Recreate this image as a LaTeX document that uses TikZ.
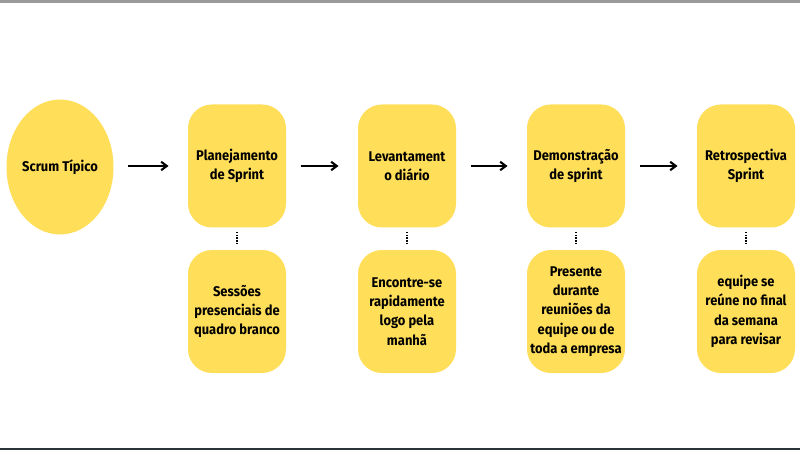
\documentclass[tikz,border=0pt]{standalone}
\usepackage{fontspec}
\setmainfont{Fira Sans}[FakeStretch=0.92]
\usepackage{xcolor}
\usepackage{tikz}
\usetikzlibrary{arrows.meta,positioning,shapes.geometric,calc}
\definecolor{scrumyellow}{HTML}{FFDE59}
\definecolor{edgegray}{HTML}{9A9A9A}
\definecolor{edgedark}{HTML}{2B3436}

\begin{document}
\begin{tikzpicture}[
  phase/.style={rectangle, fill=scrumyellow, rounded corners=17pt, minimum width=2.45cm, minimum height=3.075cm, align=center, font=\bfseries\fontsize{10}{13.8}\selectfont, inner sep=2pt},
  start/.style={ellipse, fill=scrumyellow, minimum width=2.625cm, minimum height=3.375cm, inner sep=0pt, align=center, font=\bfseries\fontsize{10}{13.8}\selectfont},
  arr/.style={-{Straight Barb[length=4pt,width=6pt]}, line width=1.5pt, shorten <=0.36cm, shorten >=0.48cm},
  dots/.style={densely dotted, line width=1pt, shorten <=0.1cm, shorten >=0.1cm}
]
\useasboundingbox (0,0) rectangle (20,11.25);

% screen edges
\fill[edgegray] (0,11.17) rectangle (20,11.25);
\fill[edgedark] (0,0) rectangle (20,0.06);

% Top row
\node[start] (scrum) at (1.5,7.075) {Scrum Típico};
\node[phase] (plan) at (5.925,7.1) {Planejamento\\de Sprint};
\node[phase] (daily) at (10.175,7.1) {Levantament\\o diário};
\node[phase] (demo) at (14.4,7.1) {Demonstração\\de sprint};
\node[phase] (retro) at (18.65,7.1) {Retrospectiva\\Sprint};

\draw[arr] (scrum.east |- 0,7.1) -- (plan.west);
\draw[arr] (plan) -- (daily);
\draw[arr] (daily) -- (demo);
\draw[arr] (demo) -- (retro);

% Bottom row: details
\node[phase] (planinfo) at (5.925,3.4625) {Sessões\\presenciais de\\quadro branco};
\node[phase] (dailyinfo) at (10.175,3.4625) {Encontre-se\\rapidamente\\logo pela\\manhã};
\node[phase] (demoinfo) at (14.4,3.4625) {Presente\\durante\\reuniões da\\equipe ou de\\toda a empresa};
\node[phase] (retroinfo) at (18.65,3.4625) {equipe se\\reúne no final\\da semana\\para revisar};

\draw[dots] (plan) -- (planinfo);
\draw[dots] (daily) -- (dailyinfo);
\draw[dots] (demo) -- (demoinfo);
\draw[dots] (retro) -- (retroinfo);

\end{tikzpicture}
\end{document}
